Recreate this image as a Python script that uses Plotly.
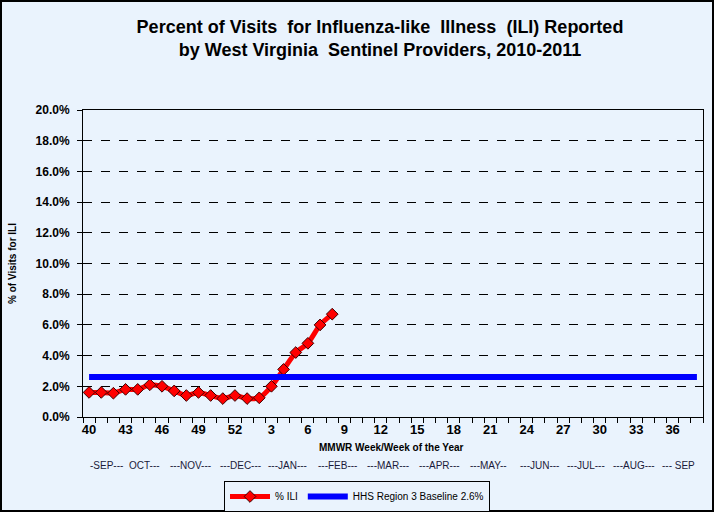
import plotly.graph_objects as go

# ---- data ----
weeks = [str(w) for w in list(range(40, 53)) + list(range(1, 39))]
ili_weeks = [str(w) for w in list(range(40, 53)) + list(range(1, 9))]
ili_values = [1.6, 1.6, 1.55, 1.8, 1.8, 2.1, 2.0, 1.7, 1.4, 1.6, 1.4, 1.2, 1.4,
              1.2, 1.25, 2.0, 3.1, 4.2, 4.8, 6.0, 6.7]
baseline_value = 2.6
baseline_values = [baseline_value] * len(weeks)
tick_label_weeks = ["40", "43", "46", "49", "52", "3", "6", "9", "12", "15", "18",
                    "21", "24", "27", "30", "33", "36"]
month_labels = ["-SEP---", "OCT---", "---NOV---", "---DEC---", "---JAN---", "---FEB---",
                "---MAR---", "---APR---", "---MAY--", "---JUN---", "---JUL---",
                "---AUG---", "--- SEP"]
month_px = [106, 144, 190, 240, 287, 337, 388, 439, 489, 539, 586, 634, 678]

title_text = ("Percent of Visits  for Influenza-like  Illness  (ILI) Reported<br>"
              "by West Virginia  Sentinel Providers, 2010-2011")

# ---- layout constants ----
W, H = 714, 512
L, R, T, B = 83, 11, 110, 95
PW = W - L - R
PH = H - T - B
BG = "#EAF3FD"
FONT = "Liberation Sans, Arial, sans-serif"


def px_x(px):
    return (px - L) / PW


def px_y(py):
    return (H - B - py) / PH


fig = go.Figure()
fig.add_trace(go.Scatter(
    x=ili_weeks, y=ili_values, name="% ILI", mode="lines+markers",
    line=dict(color="#FF0000", width=5, shape="spline", smoothing=0.6),
    marker=dict(symbol="diamond", size=9, color="#FF0000",
                line=dict(color="#3a0000", width=1)),
))
fig.add_trace(go.Scatter(
    x=weeks, y=baseline_values, name="HHS Region 3 Baseline 2.6%", mode="lines",
    line=dict(color="#0000FF", width=6),
))

ticktext = [w if w in tick_label_weeks else "" for w in weeks]

annotations = [
    dict(text="MMWR Week/Week of the Year", xref="paper", yref="paper",
         x=px_x(391), y=px_y(447), xanchor="center", yanchor="middle",
         showarrow=False, font=dict(family=FONT, size=10, color="#000000",
                                    weight="bold")),
]
for lab, px in zip(month_labels, month_px):
    annotations.append(dict(text=lab, xref="paper", yref="paper", x=px_x(px),
                            y=px_y(465), xanchor="center", yanchor="middle",
                            showarrow=False,
                            font=dict(family=FONT, size=10, color="#1a1a3a")))

shapes = [
    dict(type="rect", xref="paper", yref="paper",
         x0=px_x(1), x1=px_x(W - 1), y0=px_y(H - 1), y1=px_y(1),
         line=dict(color="#000000", width=2), fillcolor="rgba(0,0,0,0)",
         layer="above"),
]

fig.update_layout(
    width=W, height=H,
    margin=dict(l=L, r=R, t=T, b=B, pad=0, autoexpand=False),
    paper_bgcolor=BG, plot_bgcolor=BG,
    font=dict(family=FONT, color="#000000"),
    title=dict(text=title_text, x=380 / W, xanchor="center",
               y=1 - 33 / H, yanchor="middle",
               font=dict(family=FONT, size=18, color="#000000", weight="bold")),
    xaxis=dict(
        type="category", categoryorder="array", categoryarray=weeks,
        range=[-0.5, len(weeks) - 0.5], automargin=False,
        tickmode="array", tickvals=weeks, ticktext=ticktext, tickangle=0,
        tickson="boundaries", ticks="outside", ticklen=5, tickcolor="#000000",
        tickfont=dict(family=FONT, size=13, color="#000000", weight="bold"),
        showgrid=False, showline=True, linecolor="#000000", linewidth=1,
        mirror=True, zeroline=False,
    ),
    yaxis=dict(
        range=[0, 20], dtick=2, tickformat=".1f", ticksuffix="%",
        automargin=False, ticklabelstandoff=5,
        ticks="outside", ticklen=5, tickcolor="#000000",
        tickfont=dict(family=FONT, size=12, color="#000000", weight="bold"),
        showgrid=True, gridcolor="#000000", gridwidth=1, griddash="dash",
        showline=True, linecolor="#000000", linewidth=1, mirror=True,
        zeroline=False,
        title=dict(text="% of Visits for ILI", standoff=17,
                   font=dict(family=FONT, size=10, color="#000000",
                             weight="bold")),
    ),
    legend=dict(orientation="h", x=px_x(357), xanchor="center",
                y=px_y(481), yanchor="top",
                bgcolor=BG, bordercolor="#000000", borderwidth=1,
                font=dict(family=FONT, size=10, color="#000000"),
                itemwidth=40, tracegroupgap=0),
    showlegend=True,
    annotations=annotations,
    shapes=shapes,
)

fig.write_html("out.html", config={"displayModeBar": False},
               post_script="document.body.style.margin='0';"
                           "document.body.style.overflow='hidden';")
